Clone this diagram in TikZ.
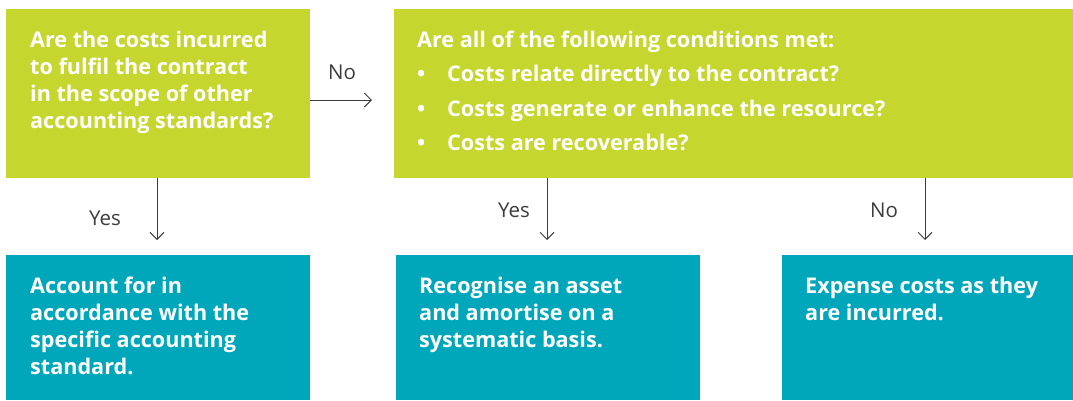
\documentclass[tikz,border=0pt]{standalone}
\usepackage{fontspec}
\setmainfont{Open Sans}
\usetikzlibrary{arrows.meta}
\definecolor{lime}{RGB}{197,214,46}
\definecolor{teal}{RGB}{0,167,186}
\definecolor{arrowgray}{RGB}{60,60,60}
\begin{document}
\begin{tikzpicture}[x=1pt,y=-1pt,
  box/.style={draw=none,inner sep=0pt,outer sep=0pt,anchor=north west},
  gbox/.style={box,fill=lime},
  tbox/.style={box,fill=teal},
  btext/.style={anchor=north west,inner sep=0pt,align=left,text=white,
    font=\bfseries\fontsize{21.6}{27}\selectfont},
  lbl/.style={inner sep=0pt,text=arrowgray,font=\fontsize{20.5}{24}\selectfont},
  conn/.style={draw=arrowgray,line width=0.9pt,-{Straight Barb[length=7pt,width=14pt,line width=0.9pt]}}
]
\useasboundingbox (0,0) rectangle (1073,400);
% boxes
\node[gbox,minimum width=304,minimum height=169] (q1) at (6,9) {};
\node[gbox,minimum width=679,minimum height=169] (q2) at (394,9) {};
\node[tbox,minimum width=304,minimum height=145] (a1) at (6,255) {};
\node[tbox,minimum width=304,minimum height=145] (a2) at (396,255) {};
\node[tbox,minimum width=291,minimum height=145] (a3) at (782,255) {};
% texts
\node[btext] (t1) at (30,30.5) {Are the costs incurred\\to fulfil the contract\\in the scope of other\\accounting standards?};
\node[btext,font=\bfseries\fontsize{21.6}{34.5}\selectfont] (t2) at (417,30.5) {Are all of the following conditions met:\\
\makebox[30pt][l]{\textbullet}Costs relate directly to the contract?\\
\makebox[30pt][l]{\textbullet}Costs generate or enhance the resource?\\
\makebox[30pt][l]{\textbullet}Costs are recoverable?};
\node[btext] (t3) at (30,276.5) {Account for in\\accordance with the\\specific accounting\\standard.};
\node[btext] (t4) at (419,276.5) {Recognise an asset\\and amortise on a\\systematic basis.};
\node[btext] (t5) at (805,276.5) {Expense costs as they\\are incurred.};
% connectors
\coordinate (e1) at (372,100);
\coordinate (s2) at (157,178);
\coordinate (s3) at (547,178);
\coordinate (s4) at (925,178);
\draw[conn] (q1.east |- e1) -- (e1);
\draw[conn] (s2) -- (s2 |- 240,240);
\draw[conn] (s3) -- (s3 |- 240,240);
\draw[conn] (s4) -- (s4 |- 240,240);
% labels
\node[lbl] (l1) at (342,72) {No};
\node[lbl] (l2) at (105,218) {Yes};
\node[lbl] (l3) at (514,210) {Yes};
\node[lbl] (l4) at (884,210) {No};
\end{tikzpicture}
\end{document}
